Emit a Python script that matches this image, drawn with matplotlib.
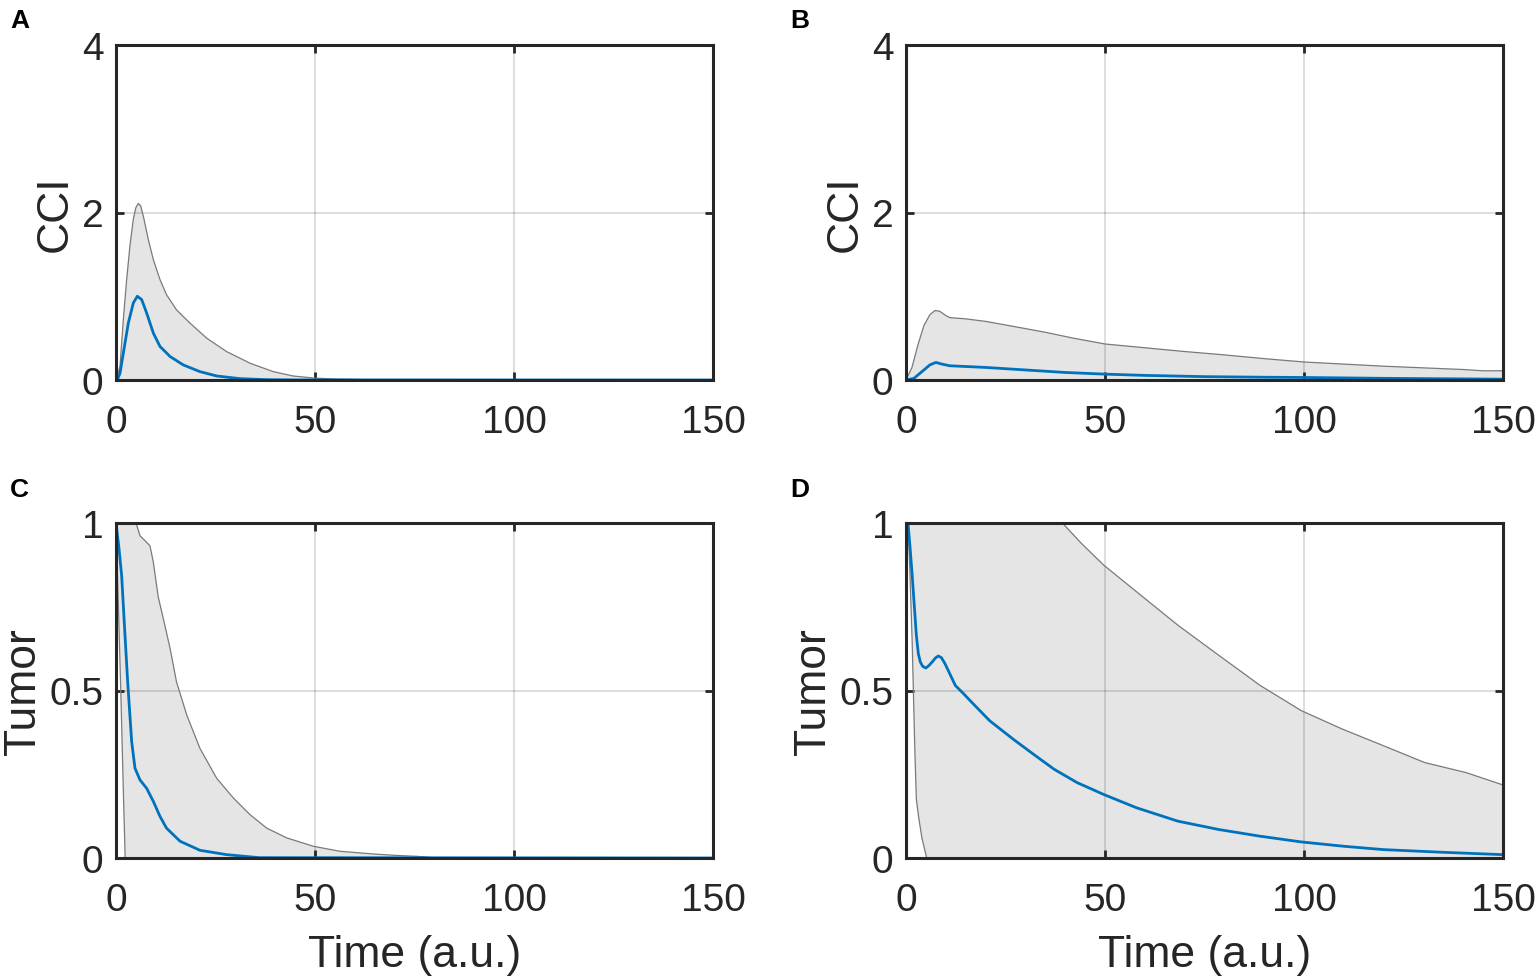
import matplotlib.pyplot as plt
import numpy as np

plt.rcParams['font.family'] = ['Liberation Sans', 'DejaVu Sans']

BLUE = '#0072BD'
FILL = '#e5e5e5'
EDGE = '#7a7a7a'

# Panel A: CCI, narrow band
tA = [0, 1.0, 1.84, 2.68, 3.5, 4.35, 5.0, 5.61, 6.2, 6.87, 8.12, 9.38, 11.06, 12.7, 15.2, 18.6, 22.8,
      27.8, 33.7, 39.5, 44.5, 49.6, 54.6, 63.0, 75.0, 150.0]
hiA = [0, 0.16, 0.72, 1.2, 1.6, 1.92, 2.06, 2.108, 2.08, 1.956, 1.677, 1.437, 1.198, 1.018, 0.838, 0.679,
       0.499, 0.339, 0.2, 0.1, 0.048, 0.024, 0.012, 0.004, 0.001, 0]
loA = [0] * len(tA)
tA_m = [0, 0.4, 1.0, 1.84, 3.1, 4.35, 5.36, 6.45, 7.7, 9.38, 11.06, 13.6, 16.9, 21.1, 25.3, 31.2, 37.9,
        45.0, 150.0]
mA = [0, 0.01, 0.08, 0.32, 0.68, 0.92, 1.0, 0.96, 0.8, 0.56, 0.4, 0.28, 0.18, 0.1, 0.048, 0.016, 0.004,
      0.001, 0]

# Panel B: CCI, wide band
tB = [0, 1.5, 3.0, 4.5, 6.0, 7.3, 8.5, 10.0, 11.0, 15.0, 20.0, 27.0, 35.0, 42.0, 50.0, 60.0, 70.0, 80.0,
      90.0, 100.0, 110.0, 120.0, 130.0, 140.0, 145.0, 150.0]
hiB = [0, 0.15, 0.42, 0.65, 0.78, 0.83, 0.82, 0.77, 0.745, 0.73, 0.7, 0.64, 0.57, 0.5, 0.43, 0.385, 0.34,
       0.3, 0.255, 0.215, 0.19, 0.165, 0.145, 0.125, 0.11, 0.11]
loB = [0] * len(tB)
tB_m = [0, 2.0, 4.0, 6.0, 7.5, 9.0, 11.0, 20.0, 30.0, 40.0, 50.0, 60.0, 75.0, 90.0, 100.0, 120.0, 150.0]
mB = [0, 0.02, 0.1, 0.18, 0.21, 0.19, 0.17, 0.15, 0.12, 0.09, 0.07, 0.055, 0.04, 0.033, 0.03, 0.02, 0.01]

# Panel C: Tumor, narrow band
tC = [0, 1.0, 3.0, 5.03, 6.03, 7.29, 8.54, 9.38, 10.6, 11.9, 13.6, 15.2, 17.8, 21.1, 25.3, 29.5, 33.7,
      37.9, 42.9, 49.6, 56.3, 64.7, 70.0, 75.6, 78.0, 80.0, 150.0]
hiC = [1.0, 1.15, 1.15, 1.0, 0.962, 0.947, 0.932, 0.883, 0.78, 0.714, 0.625, 0.526, 0.426, 0.327, 0.238,
       0.179, 0.129, 0.089, 0.06, 0.035, 0.02, 0.012, 0.008, 0.005, 0.003, 0, 0]
tC_lo = [0, 0.6, 1.2, 1.8, 2.3, 150.0]
loC = [1.0, 0.75, 0.5, 0.22, 0, 0]
tC_m = [0, 0.7, 1.42, 2.26, 2.93, 3.94, 4.77, 6.03, 7.7, 9.38, 11.06, 12.7, 16.1, 21.1, 27.8, 36.0, 150.0]
mC = [1.0, 0.93, 0.843, 0.665, 0.526, 0.347, 0.268, 0.233, 0.208, 0.169, 0.124, 0.089, 0.05, 0.023,
      0.01, 0.001, 0]

# Panel D: Tumor, wide band
tD = [0, 10.0, 25.0, 39.3, 44.0, 49.6, 57.9, 68.3, 78.6, 89.0, 99.3, 109.6, 120.0, 130.3, 140.7, 149.5, 150.0]
hiD = [1.0, 1.3, 1.3, 1.0, 0.94, 0.875, 0.795, 0.695, 0.605, 0.515, 0.44, 0.385, 0.335, 0.285, 0.255, 0.22, 0.218]
tD_lo = [0, 0.5, 0.9, 1.55, 2.2, 2.6, 3.2, 4.0, 5.2, 150.0]
loD = [1.0, 1.0, 0.88, 0.645, 0.33, 0.175, 0.12, 0.06, 0, 0]
tD_m = [0, 0.5, 1.0, 1.55, 2.1, 2.6, 3.1, 3.6, 4.2, 5.0, 5.8, 6.7, 7.4, 8.1, 8.9, 9.8, 11.0, 12.4, 14.5,
        16.5, 21.0, 26.9, 32.0, 37.2, 43.0, 49.6, 57.9, 68.3, 78.6, 89.0, 99.3, 110.0, 120.0, 135.0, 150.0]
mD = [1.0, 1.0, 0.93, 0.845, 0.75, 0.665, 0.61, 0.585, 0.572, 0.567, 0.575, 0.587, 0.597, 0.603, 0.598,
      0.58, 0.55, 0.515, 0.49, 0.465, 0.41, 0.355, 0.31, 0.265, 0.225, 0.19, 0.15, 0.11, 0.085, 0.065,
      0.048, 0.035, 0.025, 0.017, 0.01]

panels = [
    ('A', (tA, hiA), (tA, loA), (tA_m, mA), 'CCI', [0, 2, 4], ['0', '2', '4'], 4, False),
    ('B', (tB, hiB), (tB, loB), (tB_m, mB), 'CCI', [0, 2, 4], ['0', '2', '4'], 4, False),
    ('C', (tC, hiC), (tC_lo, loC), (tC_m, mC), 'Tumor', [0, 0.5, 1], ['0', '0.5', '1'], 1, True),
    ('D', (tD, hiD), (tD_lo, loD), (tD_m, mD), 'Tumor', [0, 0.5, 1], ['0', '0.5', '1'], 1, True),
]

W, H = 1536, 978
fig = plt.figure(figsize=(W / 100, H / 100), dpi=100)

boxes = {'A': (116, 46), 'B': (906, 46), 'C': (116, 524), 'D': (906, 524)}
aw, ah = 597, 335

for letter, hi, lo, mean, ylab, yt, ytl, ymax, xlab in panels:
    x0, y0 = boxes[letter]
    ax = fig.add_axes([x0 / W, 1 - (y0 + ah) / H, aw / W, ah / H])
    grid_t = np.union1d(hi[0], lo[0])
    hi_v = np.interp(grid_t, hi[0], hi[1])
    lo_v = np.interp(grid_t, lo[0], lo[1])
    ax.fill_between(grid_t, lo_v, hi_v, facecolor=FILL, edgecolor='none')
    ax.plot(hi[0], hi[1], color=EDGE, lw=0.9)
    ax.plot(lo[0], lo[1], color=EDGE, lw=0.9)
    ax.plot(mean[0], mean[1], color=BLUE, lw=2.0)
    ax.set_xlim(0, 150)
    ax.set_ylim(0, ymax)
    ax.set_xticks([0, 50, 100, 150])
    ax.set_yticks(yt)
    ax.set_yticklabels(ytl)
    ax.set_axisbelow('line')
    ax.grid(True, color='k', alpha=0.13, lw=1.5)
    ax.tick_params(direction='in', length=6, width=2, top=True, right=True,
                   labelsize=28, colors='#262626', pad=9)
    ax.tick_params(axis='x', pad=17)
    for s in ax.spines.values():
        s.set_linewidth(2.2)
        s.set_color('#262626')
    ax.set_ylabel(ylab, fontsize=32, color='#262626', labelpad=4)
    if xlab:
        ax.set_xlabel('Time (a.u.)', fontsize=32, color='#262626', labelpad=12)
    lx = 10 if x0 < 500 else 790
    ly = 9 if y0 < 300 else 478
    fig.text(lx / W, 1 - ly / H, letter, fontsize=19, fontweight='bold', va='top', ha='left')

fig.savefig('out.png', dpi=100)
